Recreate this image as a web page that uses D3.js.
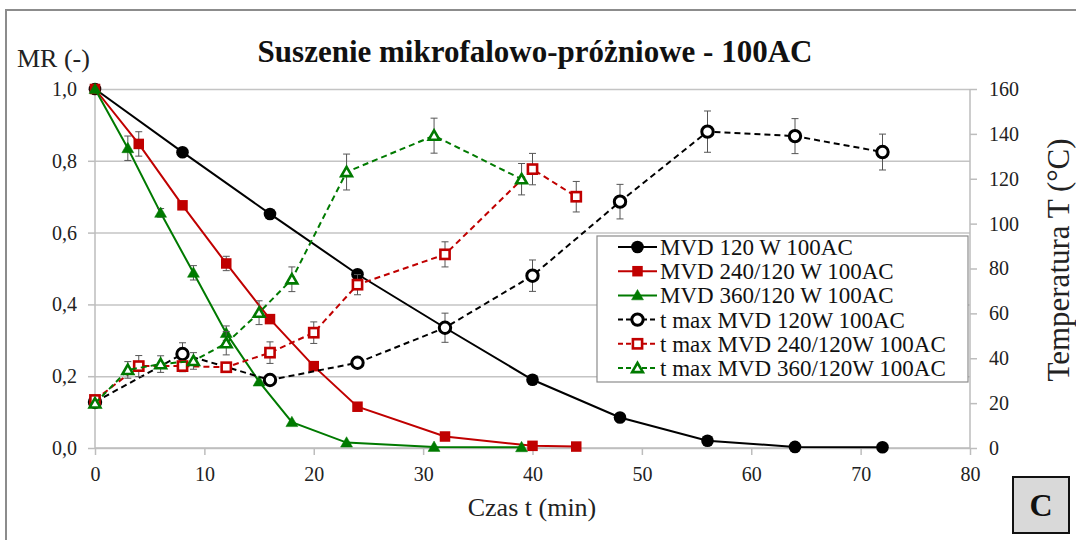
<!DOCTYPE html>
<html>
<head>
<meta charset="utf-8">
<script src="https://cdn.jsdelivr.net/npm/d3@7"></script>
<style>
  html, body { margin: 0; padding: 0; background: #fff; }
  svg { display: block; font-family: "Liberation Serif", "Times New Roman", serif; }
</style>
</head>
<body>
<svg id="chart" width="1076" height="540"></svg>
<script>
// Drying time (min) for each program
const times120 = [0, 8, 16, 24, 32, 40, 48, 56, 64, 72];
const times240 = [0, 4, 8, 12, 16, 20, 24, 32, 40, 44];
const times360 = [0, 3, 6, 9, 12, 15, 18, 23, 31, 39];

// Moisture ratio MR (-) with standard deviations
const mr120 = [1.0, 0.824, 0.652, 0.484, 0.335, 0.190, 0.085, 0.020, 0.003, 0.002];
const mr120Err = [0, 0, 0, 0, 0, 0, 0, 0, 0, 0];
const mr240 = [1.0, 0.847, 0.676, 0.514, 0.359, 0.228, 0.115, 0.032, 0.006, 0.004];
const mr240Err = [0, 0.034, 0, 0.02, 0, 0, 0, 0, 0, 0];
const mr360 = [1.0, 0.835, 0.655, 0.488, 0.320, 0.185, 0.072, 0.015, 0.003, 0.002];
const mr360Err = [0, 0.034, 0.012, 0.02, 0.02, 0, 0, 0, 0, 0];

// Maximum sample temperature (°C) with standard deviations
const tmax120 = [20.5, 41.9, 30.3, 38.0, 53.6, 76.8, 109.8, 141.0, 139.0, 131.9];
const tmax120Err = [0, 5, 0, 0, 6.5, 7, 7.7, 9.2, 7.8, 8];
const tmax240 = [21.4, 36.5, 36.5, 36.0, 42.5, 51.4, 72.8, 86.3, 124.3, 112.0];
const tmax240Err = [0, 4.7, 2.5, 0, 4.8, 4.8, 4.5, 5.6, 7, 6.8];
const tmax360 = [19.9, 34.8, 37.4, 38.8, 46.7, 60.3, 75.2, 123.0, 139.2, 119.8];
const tmax360Err = [0, 3.7, 3.7, 3.7, 5.2, 5.3, 5.5, 8, 7.8, 7];

// Axis ticks
const xTicks = [0, 10, 20, 30, 40, 50, 60, 70, 80];
const mrTicks = [0, 0.2, 0.4, 0.6, 0.8, 1.0];
const tempTicks = [0, 20, 40, 60, 80, 100, 120, 140, 160];

const titleText = "Suszenie mikrofalowo-próżniowe - 100AC";
const xTitle = "Czas t (min)";
const yLeftTitle = "MR (-)";
const yRightTitle = "Temperatura T (°C)";
const panelLetter = "C";

const BLACK = "#000000", RED = "#c00000", GREEN = "#007a00";

const series = [
  { name: "MVD 120 W 100AC", t: times120, v: mr120, e: mr120Err, axis: "L", color: BLACK, shape: "circle", filled: true },
  { name: "MVD 240/120 W 100AC", t: times240, v: mr240, e: mr240Err, axis: "L", color: RED, shape: "square", filled: true },
  { name: "MVD 360/120 W 100AC", t: times360, v: mr360, e: mr360Err, axis: "L", color: GREEN, shape: "triangle", filled: true },
  { name: "t max MVD 120W 100AC", t: times120, v: tmax120, e: tmax120Err, axis: "R", color: BLACK, shape: "circle", filled: false },
  { name: "t max MVD 240/120W 100AC", t: times240, v: tmax240, e: tmax240Err, axis: "R", color: RED, shape: "square", filled: false },
  { name: "t max MVD 360/120W 100AC", t: times360, v: tmax360, e: tmax360Err, axis: "R", color: GREEN, shape: "triangle", filled: false }
];

const svg = d3.select("#chart");
const plotL = 95, plotR = 970, plotT = 89, plotB = 448;

const x = d3.scaleLinear().domain([0, 80]).range([plotL, plotR]);
const yL = d3.scaleLinear().domain([0, 1]).range([plotB, plotT]);
const yR = d3.scaleLinear().domain([0, 160]).range([plotB, plotT]);
const fmtMR = v => d3.format(".1f")(v).replace(".", ",");

// Outer frame (top and left edges are visible inside the page)
svg.append("rect").attr("x", 6).attr("y", 10).attr("width", 1100).attr("height", 560)
  .attr("fill", "none").attr("stroke", "#8c8c8c").attr("stroke-width", 2);

// Horizontal gridlines
svg.append("g")
  .attr("transform", `translate(${plotL},0)`)
  .call(d3.axisLeft(yL).tickValues(mrTicks).tickSize(-(plotR - plotL)).tickFormat(""))
  .call(g => g.select(".domain").remove())
  .call(g => g.selectAll("line").attr("stroke", "#c4c4c4").attr("stroke-width", 1.5));

// Left axis
const axL = svg.append("g")
  .attr("transform", `translate(${plotL},0)`)
  .call(d3.axisLeft(yL).tickValues(mrTicks).tickSize(7).tickPadding(11).tickFormat(fmtMR));
axL.select(".domain").attr("stroke", "#bdbdbd").attr("stroke-width", 1.5).attr("d", `M0,${plotT}V${plotB}`);
axL.selectAll("line").attr("stroke", "#bdbdbd").attr("stroke-width", 1.5);
axL.selectAll("text").attr("font-size", 20).attr("fill", "#222").attr("font-family", "Liberation Serif");

// Right axis
const axR = svg.append("g")
  .attr("transform", `translate(${plotR},0)`)
  .call(d3.axisRight(yR).tickValues(tempTicks).tickSize(7).tickPadding(12).tickFormat(d3.format("d")));
axR.select(".domain").attr("stroke", "#bdbdbd").attr("stroke-width", 1.5).attr("d", `M0,${plotT}V${plotB}`);
axR.selectAll("line").attr("stroke", "#bdbdbd").attr("stroke-width", 1.5);
axR.selectAll("text").attr("font-size", 20).attr("fill", "#222").attr("font-family", "Liberation Serif");

// Bottom axis
const axB = svg.append("g")
  .attr("transform", `translate(0,${plotB})`)
  .call(d3.axisBottom(x).tickValues(xTicks).tickSize(7).tickPadding(12).tickFormat(d3.format("d")));
axB.select(".domain").attr("stroke", "#bdbdbd").attr("stroke-width", 1.5).attr("d", `M${plotL},0H${plotR}`);
axB.selectAll("line").attr("stroke", "#bdbdbd").attr("stroke-width", 1.5);
axB.selectAll("text").attr("font-size", 20).attr("fill", "#222").attr("font-family", "Liberation Serif");

// Titles
svg.append("text").attr("x", 535).attr("y", 62).attr("text-anchor", "middle")
  .attr("font-size", 31).attr("font-weight", "bold").attr("fill", "#111").text(titleText);
svg.append("text").attr("x", 17).attr("y", 67).attr("font-size", 26).attr("fill", "#222").text(yLeftTitle);
svg.append("text").attr("x", 532).attr("y", 516).attr("text-anchor", "middle")
  .attr("font-size", 26).attr("fill", "#222").text(xTitle);
svg.append("text").attr("transform", "translate(1058,260) rotate(-90)").attr("text-anchor", "middle")
  .attr("dy", "0.35em").attr("font-size", 31).attr("fill", "#222").text(yRightTitle);

// Marker drawing helper
function marker(g, s, cx, cy) {
  if (s.shape === "circle") {
    g.append("circle").attr("cx", cx).attr("cy", cy)
      .attr("r", s.filled ? 6.3 : 5.7)
      .attr("fill", s.filled ? s.color : "#fff")
      .attr("stroke", s.color).attr("stroke-width", s.filled ? 0 : 3);
  } else if (s.shape === "square") {
    const side = s.filled ? 10.5 : 9.2;
    g.append("rect").attr("x", cx - side / 2).attr("y", cy - side / 2)
      .attr("width", side).attr("height", side)
      .attr("fill", s.filled ? s.color : "#fff")
      .attr("stroke", s.color).attr("stroke-width", s.filled ? 0 : 2.6);
  } else {
    const size = s.filled ? 62 : 50;
    g.append("path").attr("d", d3.symbol(d3.symbolTriangle, size)())
      .attr("transform", `translate(${cx},${cy + 1})`)
      .attr("fill", s.filled ? s.color : "#fff")
      .attr("stroke", s.color).attr("stroke-width", s.filled ? 0.5 : 2.6)
      .attr("stroke-linejoin", "miter");
  }
}

// Series: lines, error bars and markers
series.forEach(s => {
  const yS = s.axis === "L" ? yL : yR;
  const pts = s.t.map((t, i) => ({ t, v: s.v[i], e: s.e[i] }));
  const g = svg.append("g");
  g.append("path").datum(pts)
    .attr("d", d3.line().x(d => x(d.t)).y(d => yS(d.v)))
    .attr("fill", "none").attr("stroke", s.color).attr("stroke-width", 2)
    .attr("stroke-dasharray", s.filled ? null : "6,4");
  const eb = g.append("g").attr("stroke", "#555").attr("stroke-width", 1);
  pts.filter(d => d.e > 0).forEach(d => {
    const cx = x(d.t), y1 = yS(d.v + d.e), y2 = yS(d.v - d.e);
    eb.append("line").attr("x1", cx).attr("x2", cx).attr("y1", y1).attr("y2", y2);
    eb.append("line").attr("x1", cx - 3.5).attr("x2", cx + 3.5).attr("y1", y1).attr("y2", y1);
    eb.append("line").attr("x1", cx - 3.5).attr("x2", cx + 3.5).attr("y1", y2).attr("y2", y2);
  });
  pts.forEach(d => marker(g, s, x(d.t), yS(d.v)));
});

// Legend
const lg = svg.append("g");
lg.append("rect").attr("x", 597).attr("y", 236).attr("width", 371).attr("height", 146)
  .attr("fill", "#fff").attr("stroke", "#8c8c8c").attr("stroke-width", 1.2);
series.forEach((s, i) => {
  const cy = 247 + i * 24.2;
  lg.append("line").attr("x1", 618).attr("x2", 657).attr("y1", cy).attr("y2", cy)
    .attr("stroke", s.color).attr("stroke-width", 2)
    .attr("stroke-dasharray", s.filled ? null : "5,3");
  marker(lg, s, 637.5, cy);
  lg.append("text").attr("x", 660).attr("y", cy).attr("dy", "0.35em")
    .attr("font-size", 23).attr("fill", "#111").text(s.name);
});

// Panel letter box
svg.append("rect").attr("x", 1013).attr("y", 477).attr("width", 56).attr("height", 56)
  .attr("fill", "#d9d9d9").attr("stroke", "#111").attr("stroke-width", 2);
svg.append("text").attr("x", 1041).attr("y", 505).attr("dy", "0.35em").attr("text-anchor", "middle")
  .attr("font-size", 32).attr("font-weight", "bold").attr("fill", "#111").text(panelLetter);
</script>
</body>
</html>
